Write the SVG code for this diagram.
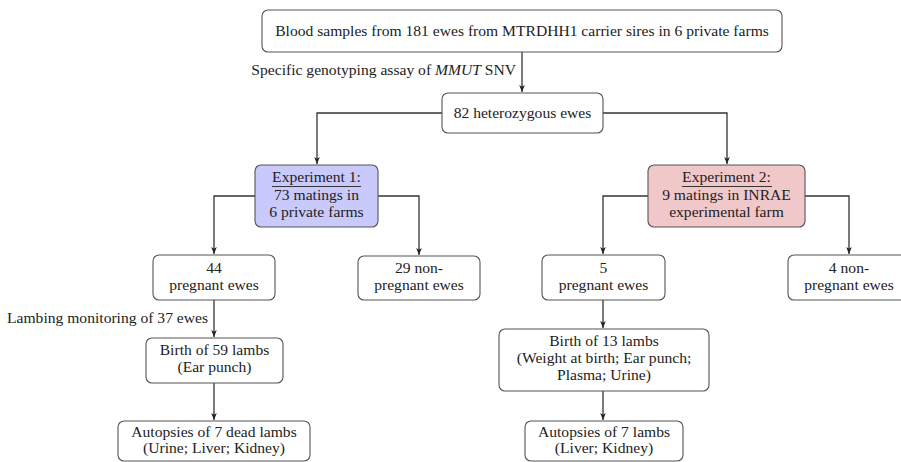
<svg xmlns="http://www.w3.org/2000/svg" width="901" height="462" viewBox="0 0 901 462">
<style>
text{font-family:"Liberation Serif","Times New Roman",serif;font-size:15.6px;fill:#222;text-anchor:middle}
.lbl{text-anchor:end}
.box{fill:#fff;stroke:#555;stroke-width:1.1}
.e1{fill:#c9c9fb;stroke:#555;stroke-width:1.1}
.e2{fill:#f1c8ca;stroke:#555;stroke-width:1.1}
.ul{stroke:#222;stroke-width:0.9}
.c{fill:none;stroke:#333;stroke-width:1.3;marker-end:url(#ah)}
</style>
<defs>
<marker id="ah" viewBox="0 0 10 10" refX="10" refY="5" markerWidth="7" markerHeight="7" markerUnits="userSpaceOnUse" orient="auto">
<path d="M0,1 L10,5 L0,9 L2.5,5 Z" fill="#222"/>
</marker>
</defs>
<rect width="901" height="462" fill="#fff"/>
<g id="connectors">
<path class="c" d="M522,52 V92"/>
<path class="c" d="M442,113 H317 V164"/>
<path class="c" d="M603,113 H727 V164"/>
<path class="c" d="M255,196 H214 V254"/>
<path class="c" d="M378,196 H419 V255"/>
<path class="c" d="M648,196 H603 V254"/>
<path class="c" d="M805,196 H849 V254"/>
<path class="c" d="M214,300 V337"/>
<path class="c" d="M214,383 V420"/>
<path class="c" d="M603,300 V328"/>
<path class="c" d="M603,391 V420"/>
</g>
<g id="edge-labels">
<text class="lbl" x="516" y="75">Specific genotyping assay of <tspan font-style="italic">MMUT</tspan> SNV</text>
<text class="lbl" x="208" y="323">Lambing monitoring of 37 ewes</text>
</g>
<g id="n-blood">
<rect class="box" x="262" y="10" width="520" height="42" rx="6"/>
<text x="522" y="36">Blood samples from 181 ewes from MTRDHH1 carrier sires in 6 private farms</text>
</g>
<g id="n-82">
<rect class="box" x="442" y="93" width="161" height="40" rx="6"/>
<text x="522.5" y="118">82 heterozygous ewes</text>
</g>
<g id="n-exp1">
<rect class="e1" x="255" y="165" width="123" height="62" rx="6"/>
<text x="316.5" y="182">Experiment 1:</text>
<line class="ul" x1="272" y1="186.5" x2="361" y2="186.5"/>
<text x="316.5" y="200">73 matings in</text>
<text x="316.5" y="217">6 private farms</text>
</g>
<g id="n-exp2">
<rect class="e2" x="648" y="165" width="157" height="62" rx="6"/>
<text x="726.5" y="182">Experiment 2:</text>
<line class="ul" x1="682" y1="186.5" x2="772" y2="186.5"/>
<text x="726.5" y="200">9 matings in INRAE</text>
<text x="726.5" y="217">experimental farm</text>
</g>
<g id="n-44">
<rect class="box" x="153" y="255" width="122" height="45" rx="6"/>
<text x="214" y="273">44</text>
<text x="214" y="290">pregnant ewes</text>
</g>
<g id="n-29">
<rect class="box" x="358" y="256" width="122" height="44" rx="6"/>
<text x="419" y="273">29 non-</text>
<text x="419" y="290">pregnant ewes</text>
</g>
<g id="n-5">
<rect class="box" x="542" y="255" width="123" height="45" rx="6"/>
<text x="603.5" y="273">5</text>
<text x="603.5" y="290">pregnant ewes</text>
</g>
<g id="n-4">
<rect class="box" x="788" y="255" width="122" height="45" rx="6"/>
<text x="849" y="273">4 non-</text>
<text x="849" y="290">pregnant ewes</text>
</g>
<g id="n-birth59">
<rect class="box" x="146" y="338" width="137" height="45" rx="6"/>
<text x="214.5" y="355">Birth of 59 lambs</text>
<text x="214.5" y="372">(Ear punch)</text>
</g>
<g id="n-birth13">
<rect class="box" x="499" y="329" width="210" height="62" rx="6"/>
<text x="604" y="346">Birth of 13 lambs</text>
<text x="604" y="363">(Weight at birth; Ear punch;</text>
<text x="604" y="380">Plasma; Urine)</text>
</g>
<g id="n-aut-dead">
<rect class="box" x="118" y="421" width="192" height="40" rx="6"/>
<text x="214" y="437">Autopsies of 7 dead lambs</text>
<text x="214" y="453">(Urine; Liver; Kidney)</text>
</g>
<g id="n-aut7">
<rect class="box" x="525" y="421" width="158" height="40" rx="6"/>
<text x="604" y="437">Autopsies of 7 lambs</text>
<text x="604" y="453">(Liver; Kidney)</text>
</g>
</svg>
